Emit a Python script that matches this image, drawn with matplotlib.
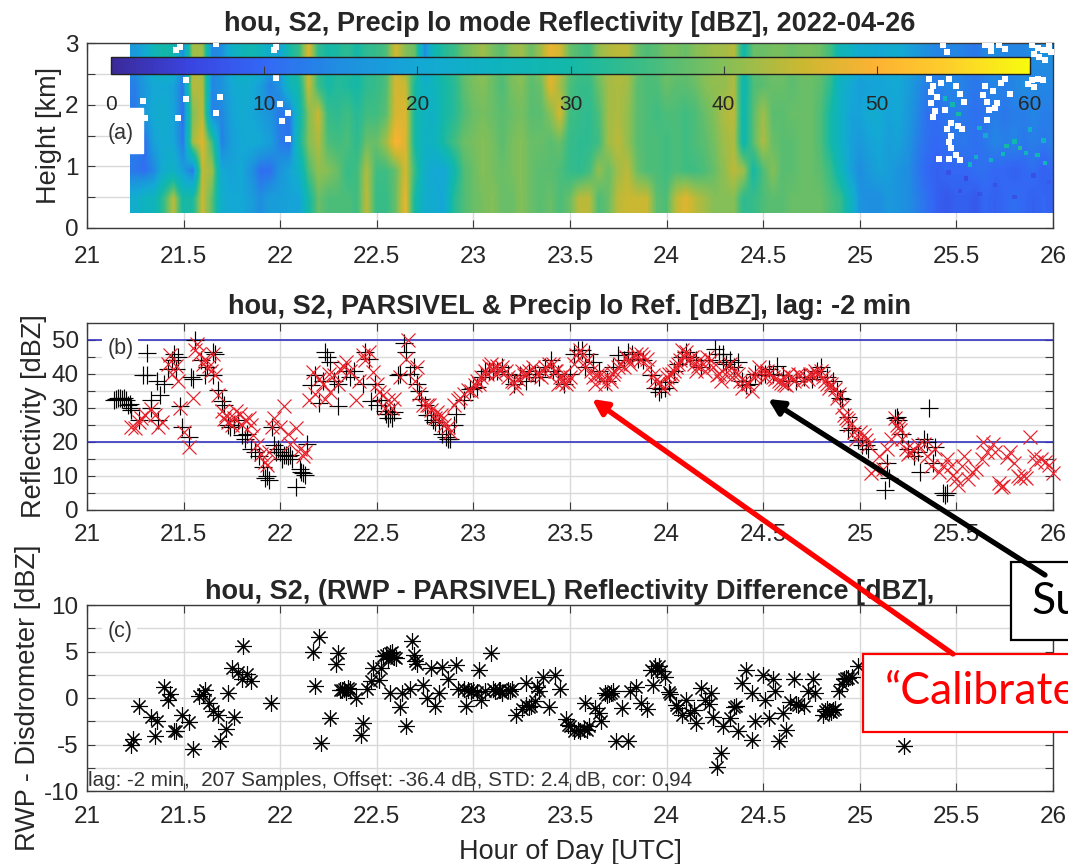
"""
Three-panel radar / disdrometer comparison for 2022-04-26 with slide call-outs on top.
Values read off the reference figure.
"""

import matplotlib

matplotlib.use("Agg")
import matplotlib.pyplot as plt
import numpy as np
from matplotlib.colors import LinearSegmentedColormap
from matplotlib.patches import Rectangle

plt.rcParams["font.family"] = ["Liberation Sans", "DejaVu Sans"]

W, H = 1068, 864
INK = "#3a3a3a"

# parula-like colours as seen on the colour bar
PARULA = ["#3b2a9a", "#3a44e0", "#3368f5", "#1f8fe0", "#14a8d5", "#0fb3bf", "#14b8a8",
          "#3fbd82", "#84bf58", "#c9b832", "#fdb233", "#fdd02a", "#f8fb0e"]

HOUR_TICKS = [21, 21.5, 22, 22.5, 23, 23.5, 24, 24.5, 25, 25.5, 26]
HOUR_LABELS = ["21", "21.5", "22", "22.5", "23", "23.5", "24", "24.5", "25", "25.5", "26"]

# (a) reflectivity, one list per height row, columns 21.25 .. 26 h every 0.05 h
refl_048 = [22, 25, 26, 34, 44, 30, 31, 45, 37, 22,
            20, 20, 18, 15, 18, 18, 19, 19, 30, 38,
            36, 36, 36, 35, 44, 34, 34, 38, 48, 30,
            22, 21, 20, 32, 36, 38, 39, 40, 38, 38,
            40, 38, 37, 38, 36, 38, 44, 44, 36, 38,
            44, 45, 45, 45, 37, 36, 44, 47, 44, 42,
            40, 40, 40, 33, 34, 36, 37, 37, 38, 38,
            38, 38, 36, 34, 26, 16, 15, 15, 17, 16,
            15, 13, 11, 9, 8, 9, 9, 8, 10, 9,
            10, 11, 10, 9, 10, 9]
refl_094 = [12, 11, 14, 22, 24, 18, 12, 44, 42, 20,
            19, 20, 16, 11, 11, 16, 19, 24, 36, 41,
            40, 38, 34, 35, 43, 35, 35, 38, 46, 34,
            23, 20, 20, 28, 36, 38, 40, 39, 38, 39,
            40, 38, 37, 37, 36, 34, 33, 35, 41, 38,
            42, 44, 38, 36, 36, 35, 36, 35, 35, 36,
            38, 41, 44, 42, 30, 36, 40, 37, 37, 38,
            38, 37, 34, 27, 19, 15, 17, 19, 18, 16,
            15, 12, 10, 9, 10, 10, 10, 11, 11, 10,
            10, 9, 10, 11, 9, 10]
refl_140 = [13, 11, 19, 21, 20, 12, 42, 47, 35, 13,
            18, 20, 21, 20, 18, 13, 11, 30, 40, 43,
            36, 35, 36, 33, 38, 38, 42, 50, 47, 30,
            24, 25, 31, 35, 38, 39, 40, 39, 37, 39,
            40, 38, 38, 37, 38, 34, 33, 33, 35, 42,
            44, 41, 37, 36, 36, 35, 36, 35, 36, 37,
            39, 42, 43, 28, 37, 43, 38, 37, 37, 38,
            38, 36, 30, 24, 19, 17, 19, 20, 18, 19,
            16, 13, 11, 10, 11, 12, 12, 11, 12, 14,
            13, 14, 12, 13, 12, 13]
refl_185 = [12, 17, 21, 22, 19, 11, 40, 44, 13, 14,
            19, 21, 20, 18, 16, 12, 12, 28, 40, 45,
            34, 33, 35, 32, 35, 35, 37, 46, 47, 30,
            25, 24, 30, 32, 36, 38, 39, 38, 37, 38,
            39, 37, 37, 40, 46, 35, 34, 33, 36, 42,
            43, 41, 37, 36, 35, 36, 36, 35, 36, 38,
            40, 43, 44, 28, 37, 42, 37, 37, 38, 38,
            38, 36, 30, 24, 19, 19, 21, 21, 19, 20,
            17, 14, 11, 11, 12, 13, 12, 11, 12, 13,
            12, 13, 13, 14, 13, 13]
refl_231 = [13, 17, 20, 20, 19, 12, 44, 43, 14, 16,
            20, 22, 21, 18, 13, 16, 26, 30, 45, 34,
            30, 32, 31, 30, 33, 34, 36, 46, 45, 30,
            24, 26, 30, 32, 37, 39, 40, 38, 36, 39,
            40, 37, 38, 47, 42, 36, 34, 34, 38, 42,
            43, 42, 37, 36, 36, 38, 37, 37, 38, 40,
            41, 41, 43, 28, 36, 37, 38, 38, 37, 38,
            38, 37, 33, 24, 21, 18, 19, 19, 20, 20,
            18, 15, 13, 13, 14, 14, 13, 12, 13, 14,
            13, 14, 15, 14, 14, 14]
refl_277 = [17, 20, 27, 30, 28, 15, 42, 42, 14, 15,
            23, 26, 28, 26, 22, 19, 30, 34, 47, 33,
            30, 31, 33, 30, 33, 34, 36, 46, 40, 38,
            15, 28, 32, 34, 38, 40, 42, 39, 37, 41,
            42, 38, 42, 48, 46, 38, 36, 35, 41, 43,
            44, 44, 38, 36, 37, 39, 39, 38, 40, 41,
            42, 42, 44, 29, 38, 38, 39, 39, 38, 39,
            39, 38, 35, 27, 25, 21, 21, 20, 21, 21,
            19, 17, 15, 14, 14, 14, 13, 12, 14, 15,
            14, 14, 14, 15, 15, 15]

# (a) single noisy cells in the weak echo at the end of the day: hour, km, dBZ
speck_cells = [(25.76, 1.33, 30), (25.74, 1.2, 26), (25.57, 1.03, 24), (25.6, 1.15, 22), (25.68, 1.1, 24),
               (25.8, 1.4, 28), (25.83, 1.3, 32), (25.86, 1.22, 26), (25.92, 1.18, 28), (25.95, 1.42, 24),
               (25.65, 1.5, 20), (25.62, 1.62, 24), (25.88, 1.6, 22), (25.96, 1.05, 26), (25.51, 1.85, 30),
               (25.48, 2.0, 28), (25.44, 2.1, 26), (25.7, 0.7, 7), (25.62, 0.55, 7), (25.8, 0.5, 7),
               (25.52, 0.6, 7), (25.9, 0.85, 7), (25.98, 0.75, 8), (25.46, 0.9, 7), (25.55, 0.8, 6)]

# (a) echo-free cells
gap_hour = [21.46, 21.48, 21.67, 21.97, 21.98, 21.51, 21.51, 21.69, 21.29, 21.30, 21.47, 21.67, 21.98, 22.0, 22.04,
            22.01, 22.04, 25.36, 25.38, 25.43, 25.45, 25.37, 25.40, 25.37, 25.39, 25.38, 25.44, 25.47, 25.42, 25.46,
            25.50, 25.52, 25.54, 25.45, 25.47, 25.53, 25.46, 25.51, 25.47, 25.50, 25.41, 25.46, 25.52, 25.65, 25.68,
            25.72, 25.75, 25.65, 25.75, 25.64, 25.66, 25.71, 25.67, 25.69, 25.73, 25.78, 25.66, 25.70, 25.89, 25.92,
            25.95, 25.98, 25.90, 25.93, 25.96, 25.99, 25.89, 25.92, 25.95, 25.98, 25.87, 25.90, 25.68]
gap_km = [2.89, 2.94, 2.99, 2.89, 2.94, 2.40, 2.10, 2.12, 2.06, 1.79, 1.79, 1.86, 2.43, 2.01, 1.86,
          1.74, 1.44, 2.42, 2.30, 2.96, 2.85, 2.20, 2.13, 2.02, 1.90, 1.80, 1.92, 1.70, 2.35, 2.42,
          2.30, 2.18, 2.04, 1.60, 1.50, 1.60, 1.40, 1.66, 1.30, 1.18, 1.12, 1.12, 1.10, 2.97, 2.96,
          2.96, 2.90, 2.30, 2.42, 2.15, 2.05, 2.02, 1.92, 2.22, 2.35, 2.18, 1.75, 1.95, 2.96, 2.92,
          2.88, 2.95, 2.82, 2.78, 2.72, 2.85, 2.40, 2.42, 2.40, 2.88, 2.33, 2.28, 2.87]

# (b) PARSIVEL, black plus signs
parsivel_hour = [21.14, 21.15, 21.17, 21.18, 21.20, 21.22, 21.23, 21.23, 21.27, 21.29, 21.31, 21.31, 21.33, 21.33,
                 21.37, 21.38, 21.40, 21.42, 21.45, 21.46, 21.48, 21.49, 21.53, 21.56, 21.55, 21.61, 21.59, 21.65,
                 21.65, 21.68, 21.71, 21.74, 21.78, 21.82, 21.83, 21.87, 21.91, 21.92, 21.94, 21.96, 21.97, 21.99,
                 22.02, 22.03, 22.05, 22.08, 22.11, 22.13, 22.14, 22.16, 22.18, 22.20, 22.23, 22.26, 22.30, 22.30,
                 22.34, 22.38, 22.43, 22.44, 22.46, 22.49, 22.52, 22.55, 22.57, 22.59, 22.61, 22.64, 22.65, 22.69,
                 22.71, 22.73, 22.75, 22.78, 22.79, 22.84, 22.86, 22.88, 22.91, 22.95, 22.98, 23.02, 23.06, 23.10,
                 23.15, 23.21, 23.24, 23.29, 23.34, 23.40, 23.41, 23.47, 23.50, 23.52, 23.56, 23.60, 23.62, 23.65,
                 23.69, 23.75, 23.80, 23.85, 23.92, 23.96, 23.97, 24.01, 24.04, 24.10, 24.12, 24.18, 24.25, 24.29,
                 24.29, 24.33, 24.37, 24.41, 24.43, 24.49, 24.53, 24.57, 24.60, 24.67, 24.75, 24.80, 24.86, 24.88,
                 24.91, 24.94, 24.94, 24.99, 25.01, 25.04, 25.13, 25.14, 25.15, 25.19, 25.20, 25.22, 25.25, 25.30,
                 25.31, 25.33, 25.36, 25.38, 25.39, 25.43, 25.44]
parsivel_dbz = [32.5, 32.7, 33, 32.7, 32.3, 31.3, 30.1, 29.3, 26.4, 39.6, 39.6, 46.2, 32.3, 30.1,
                26.4, 33.7, 37.1, 41.5, 46, 41.5, 30.5, 24.4, 21.5, 50, 38.6, 39.6, 44, 46.4,
                39.6, 35.2, 30.8, 24.4, 26.4, 21, 22.5, 17.1, 12.7, 9.3, 8.8, 24.4, 19, 18,
                16.1, 16.1, 16.1, 6.8, 11.2, 10.3, 19.5, 36.7, 39.6, 31.5, 46.4, 43.5, 30.5, 37.1,
                41, 41, 37.1, 46.4, 44.5, 37.1, 32.3, 28.3, 28.3, 28.8, 39.6, 49, 46.4, 42,
                37.1, 32.7, 30.8, 27.9, 26.4, 22.5, 21.5, 21, 28.3, 32.3, 35.7, 36.2, 41, 41,
                42, 37.1, 39.6, 41, 39, 44, 41, 37.1, 40, 46, 47, 46, 43.5, 41,
                38, 45.5, 46.4, 44.5, 39.6, 34.7, 35.7, 37.6, 41, 46.4, 45, 42, 47.4, 46,
                43.5, 44, 43.5, 36.7, 37, 39.6, 41.5, 42.5, 39.6, 38, 38.6, 42, 38, 35,
                32.7, 27.4, 23.5, 20.5, 19, 18, 5.9, 13.7, 9.3, 27.4, 26.4, 22.5, 18, 17,
                11.2, 21, 30.1, 13.7, 18.6, 4.9, 4.4]
parsivel_more = [(21.16, 33), (21.19, 33), (21.21, 31), (21.36, 38), (21.44, 44), (21.47, 45), (21.54, 39), (21.62, 42),
                 (21.66, 46), (21.7, 32), (21.73, 25), (21.76, 25), (21.8, 22), (21.85, 18), (21.89, 16), (21.93, 10),
                 (21.98, 17), (22, 17), (22.01, 15), (22.04, 16), (22.06, 15), (22.1, 12), (22.12, 11), (22.22, 38),
                 (22.24, 45), (22.28, 38), (22.36, 39), (22.47, 32), (22.5, 31), (22.54, 29), (22.56, 27), (22.58, 27),
                 (22.62, 40), (22.67, 40), (22.72, 35), (22.76, 28), (22.8, 26), (22.82, 25), (22.87, 21), (22.9, 25),
                 (23, 36), (23.04, 39), (23.08, 41), (23.12, 41), (23.18, 40), (23.27, 38), (23.32, 40), (23.37, 42),
                 (23.44, 40), (23.54, 47), (23.58, 42), (23.72, 42), (23.78, 44), (23.82, 46), (23.88, 44), (23.94, 36),
                 (23.99, 36), (24.06, 43), (24.08, 45), (24.15, 44), (24.22, 44), (24.27, 46), (24.31, 43), (24.35, 42),
                 (24.39, 38), (24.46, 40), (24.51, 40), (24.55, 40), (24.63, 38), (24.71, 39), (24.78, 41), (24.83, 39),
                 (24.9, 33), (24.96, 24), (25.03, 19), (25.18, 27), (25.28, 16), (25.35, 20), (25.45, 5)]

# (b) precip lo mode, red crosses
radar_hour = [21.23, 21.27, 21.30, 21.33, 21.37, 21.42, 21.43, 21.46, 21.47, 21.48, 21.55, 21.50, 21.53, 21.56, 21.57,
              21.61, 21.63, 21.65, 21.66, 21.68, 21.71, 21.73, 21.76, 21.79, 21.82, 21.85, 21.88, 21.90, 21.93, 21.97,
              21.96, 22.00, 22.02, 22.04, 22.08, 22.05, 22.10, 22.13, 22.15, 22.17, 22.20, 22.23, 22.26, 22.28, 22.31,
              22.34, 22.39, 22.43, 22.46, 22.48, 22.51, 22.53, 22.56, 22.59, 22.62, 22.66, 22.65, 22.71, 22.72, 22.76,
              22.78, 22.81, 22.84, 22.87, 22.88, 22.92, 22.95, 22.97, 23.01, 23.04, 23.06, 23.08, 23.10, 23.12, 23.15,
              23.18, 23.21, 23.23, 23.26, 23.29, 23.33, 23.37, 23.41, 23.43, 23.45, 23.46, 23.49, 23.50, 23.53, 23.56,
              23.59, 23.62, 23.64, 23.67, 23.70, 23.73, 23.76, 23.78, 23.80, 23.83, 23.87, 23.90, 23.93, 23.96, 24.00,
              24.03, 24.05, 24.07, 24.10, 24.13, 24.16, 24.19, 24.23, 24.26, 24.30, 24.33, 24.37, 24.40, 24.44, 24.46,
              24.50, 24.53, 24.56, 24.59, 24.62, 24.65, 24.69, 24.73, 24.76, 24.80, 24.83, 24.87, 24.91, 24.94, 24.97,
              25.00, 25.03, 25.06, 25.10, 25.14, 25.16, 25.19, 25.21, 25.25, 25.28, 25.33, 25.39, 25.41, 25.45, 25.48,
              25.51, 25.54, 25.58, 25.63, 25.64, 25.69, 25.70, 25.73, 25.76, 25.80, 25.83, 25.86, 25.88, 25.91, 25.94,
              25.98, 26.00]
radar_dbz = [24.4, 25.9, 27.9, 29.8, 24.4, 43, 45.5, 42.5, 38, 30, 33, 23, 18.6, 47, 48.9,
             44.5, 42.5, 46, 39.6, 33.7, 26.9, 25.9, 27, 28.3, 26.4, 25, 19, 16.6, 13.2, 27,
             24.4, 24.4, 30.5, 22.5, 24, 19.5, 18, 17, 32.3, 40.6, 38.6, 32.7, 34.7, 39.6, 41.5,
             43.5, 32.5, 45.5, 46.4, 40.6, 34.7, 33.7, 32.3, 32.7, 39, 49.9, 44.5, 42, 34, 30.8,
             29.3, 28.8, 26.9, 24.4, 23, 32.3, 34.2, 35.2, 36.7, 39, 41, 42.5, 41.5, 42.5, 42,
             39, 37.6, 38.5, 39.6, 41, 40, 42, 43, 41, 39, 37.6, 38, 39, 45.5, 45.5,
             44, 39, 39.6, 38.6, 39, 41, 43, 42, 44, 45, 46, 44.5, 39.6, 37.6, 39,
             40, 42, 44, 46.4, 45, 42.5, 43, 44, 39.6, 40, 43, 40, 38, 35, 40,
             41, 40, 38.6, 37.5, 36.7, 39, 39.6, 38.6, 39.6, 41, 37, 35.7, 30.3, 26.4, 23,
             23, 20.5, 10.8, 16, 18, 21, 25, 23.5, 16.6, 17.6, 19.5, 18, 11.2, 15, 10.3,
             7.3, 16, 11.2, 15, 20, 19.5, 17, 6.8, 15.6, 13.7, 9.3, 9.3, 21.5, 14.2, 15,
             13.2, 10.8]
radar_more = [(21.25, 24), (21.28, 27), (21.35, 28), (21.39, 26), (21.44, 40), (21.58, 46), (21.6, 43), (21.64, 41),
              (21.7, 29), (21.72, 28), (21.75, 25), (21.77, 29), (21.8, 25), (21.84, 27), (21.86, 22), (21.92, 14),
              (21.94, 17), (22.12, 16), (22.18, 34), (22.22, 37), (22.25, 40), (22.3, 37), (22.33, 42), (22.36, 41),
              (22.41, 38), (22.44, 44), (22.5, 37), (22.54, 30), (22.58, 30), (22.7, 38), (22.74, 31), (22.77, 31),
              (22.8, 27), (22.83, 28), (22.85, 25), (22.9, 31), (22.93, 33), (22.99, 35), (23.02, 38), (23.03, 37),
              (23.07, 40), (23.09, 43), (23.11, 40), (23.14, 41), (23.17, 41), (23.2, 38), (23.22, 36), (23.25, 41),
              (23.28, 40), (23.31, 42), (23.35, 39), (23.36, 41), (23.39, 43), (23.42, 41), (23.44, 37), (23.47, 40),
              (23.48, 37), (23.52, 43), (23.55, 47), (23.58, 42), (23.61, 41), (23.63, 37), (23.66, 40), (23.68, 37),
              (23.71, 38), (23.72, 40), (23.75, 42), (23.79, 45), (23.81, 43), (23.84, 46), (23.86, 44), (23.88, 45),
              (23.91, 42), (23.94, 38), (23.98, 36), (24.01, 40), (24.02, 37), (24.04, 41), (24.06, 43), (24.08, 47),
              (24.09, 45), (24.11, 44), (24.14, 43), (24.15, 41), (24.17, 44), (24.2, 41), (24.21, 45), (24.24, 42),
              (24.27, 40), (24.28, 38), (24.31, 42), (24.34, 39), (24.35, 41), (24.38, 38), (24.39, 36), (24.42, 37),
              (24.45, 39), (24.48, 42), (24.51, 39), (24.52, 41), (24.55, 39), (24.58, 38), (24.6, 39), (24.61, 37),
              (24.63, 40), (24.66, 38), (24.68, 40), (24.7, 38), (24.72, 39), (24.74, 40), (24.77, 41), (24.78, 40),
              (24.81, 39), (24.82, 38), (24.84, 36), (24.85, 37), (24.88, 33), (24.89, 34), (24.92, 28), (24.93, 27),
              (24.95, 25), (24.98, 21), (25.02, 22), (25.04, 19), (25.08, 12), (25.12, 12), (25.18, 27), (25.2, 24),
              (25.22, 21), (25.24, 18), (25.26, 17), (25.3, 19), (25.35, 16), (25.37, 13), (25.43, 13), (25.47, 13),
              (25.5, 9), (25.53, 13), (25.56, 9), (25.6, 12), (25.66, 17), (25.72, 8), (25.74, 7), (25.78, 17),
              (25.82, 10), (25.85, 10), (25.9, 16), (25.96, 14)]

# (c) RWP minus disdrometer
diff_hour = [21.23, 21.24, 21.27, 21.33, 21.35, 21.36, 21.40, 21.43, 21.42, 21.45, 21.46, 21.49, 21.53, 21.55, 21.58,
             21.60, 21.61, 21.63, 21.65, 21.68, 21.69, 21.72, 21.73, 21.76, 21.75, 21.78, 21.81, 21.80, 21.83, 21.85,
             21.95, 22.17, 22.18, 22.20, 22.21, 22.26, 22.29, 22.30, 22.31, 22.33, 22.36, 22.39, 22.42, 22.43, 22.45,
             22.47, 22.48, 22.51, 22.52, 22.55, 22.57, 22.59, 22.57, 22.62, 22.63, 22.65, 22.67, 22.68, 22.70, 22.71,
             22.74, 22.76, 22.78, 22.80, 22.82, 22.84, 22.87, 22.91, 22.92, 22.96, 22.97, 23.00, 23.03, 23.04, 23.09,
             23.10, 23.13, 23.15, 23.18, 23.20, 23.22, 23.27, 23.27, 23.30, 23.33, 23.34, 23.36, 23.39, 23.42, 23.45,
             23.48, 23.50, 23.52, 23.54, 23.59, 23.58, 23.63, 23.65, 23.66, 23.68, 23.71, 23.74, 23.77, 23.80, 23.81,
             23.84, 23.87, 23.90, 23.92, 23.96, 23.97, 23.93, 23.99, 24.02, 24.05, 24.08, 24.10, 24.12, 24.15, 24.18,
             24.20, 24.23, 24.24, 24.29, 24.28, 24.26, 24.33, 24.36, 24.37, 24.41, 24.39, 24.44, 24.44, 24.46, 24.50,
             24.51, 24.53, 24.55, 24.56, 24.58, 24.60, 24.62, 24.64, 24.66, 24.68, 24.71, 24.73, 24.76, 24.77, 24.81,
             24.84, 24.87, 24.89, 24.93, 24.96, 24.99, 25.23]
diff_db = [-5.1, -4.4, -0.9, -2, -4.1, -2.5, 1.2, 0.4, -0.2, -3.6, -3.6, -1.8, -2.6, -5.5, 0.2,
           0.4, 0.9, -0.5, -1.4, -1.8, -4.6, -3.3, 0.5, -2, 3.2, 2.8, 5.6, 2, 2.6, 1.8,
           -0.5, 5, 1.3, 6.6, -4.8, -2.1, 3.7, 4.8, 0.9, 1, 1, 0, -4, -2.7, 1,
           1.8, 3.2, 1.9, 3.2, 4.6, 4.8, 4.4, 0.5, -1, 0.5, -3, 1, 6.1, 4, 3.7,
           1.4, 0, 3.2, -0.9, 0.5, 3.3, 2, 3.5, 1, -0.9, 0.9, 0.9, 3, -0.2, 4.8,
           1, 0.9, 0.5, 0.9, 1, -1.8, 1.6, -0.7, -0.9, 1.2, 0.7, 2.3, -1, 2.5, 1,
           -2.3, -3, -3.5, -3.4, -3.4, -0.5, -1.1, -1.6, -2.5, 0.5, 0.5, -4.6, -1.1, -4.6, 0.7,
           1.2, -0.5, -1.2, 3, 3.4, 2.9, 1.4, 2.3, 0.4, -0.7, -1.8, -0.2, -1.6, -2.7, 1.1,
           -0.2, 0.5, -2, -3, -5.9, -7.4, -2.1, -0.9, -3.6, 3, 1.6, -4.5, 0.5, -2.5, 2.5,
           -0.2, -2.1, 2, 0.7, -4.6, -1.6, -3.4, -0.4, 2, -0.7, -0.9, 0.7, 2, 0.5, -1.8,
           -1.4, -1.2, 0.7, 2.1, 2.3, 3.4, -5.2]
diff_more = [(22.32, 0.9), (22.34, 0.6), (22.35, 1.1), (22.53, 4.5), (22.56, 4.2), (22.58, 4.9), (22.6, 4.3),
             (22.69, 4.6), (22.95, 1), (22.99, 0.8), (23.02, 0.6), (23.06, 0.7), (23.11, 0.7), (23.14, 0.9),
             (23.19, 0.8), (23.25, -1.2), (23.29, -1), (23.32, -0.3), (23.49, -2.9), (23.55, -3.5), (23.57, -3.3),
             (23.6, -3), (23.69, 0.3), (23.7, 0.4), (23.72, 0.7), (23.94, 3.4), (23.95, 3), (24.01, 0.6),
             (24.06, -1.1), (24.14, -1.3), (24.22, -0.6), (24.35, -1), (24.67, -0.6), (24.82, -1.4), (24.83, -1.2),
             (24.85, -1.5), (24.86, -1.3), (24.91, 1.5), (24.92, 2), (24.94, 2.2)]


def style_axes(ax, ylim, major, minor, xpad=10):
    ax.set_xlim(21, 26)
    ax.set_ylim(*ylim)
    ax.set_xticks(HOUR_TICKS, HOUR_LABELS)
    ax.set_yticks(minor)
    ax.set_yticklabels([f"{v:g}" if v in major else "" for v in minor])
    ax.tick_params(direction="in", top=True, right=True, length=6, width=0.8, color=INK,
                   labelcolor="#262626", labelsize=17.5, pad=6)
    ax.tick_params(axis="x", pad=xpad)
    ax.grid(True, color="#d9d9d9", lw=1.0)
    ax.set_axisbelow(True)
    for s in ax.spines.values():
        s.set_color(INK)
        s.set_linewidth(1.0)


def panel(left, top, right, bottom):
    return plt.gcf().add_axes([left / W, 1 - bottom / H, (right - left) / W, (bottom - top) / H])


def main() -> None:
    fig = plt.figure(figsize=(W / 100, H / 100), dpi=100)
    parula = LinearSegmentedColormap.from_list("parula_ish", PARULA)

    # panel (a)
    ax_a = panel(87, 43, 1053, 228)
    style_axes(ax_a, (0, 3), [0, 1, 2, 3], [0, 0.5, 1, 1.5, 2, 2.5, 3], xpad=13)
    field = np.array([refl_277, refl_231, refl_185, refl_140, refl_094, refl_048], dtype=float)
    im = ax_a.imshow(field, cmap=parula, vmin=0, vmax=60, aspect="auto", interpolation="bilinear",
                     extent=(21.225, 26.025, 0.25, 3), zorder=2)
    ax_a.set_xlim(21, 26)
    ax_a.set_ylim(0, 3)
    sp_t, sp_h, sp_v = zip(*speck_cells)
    ax_a.scatter(sp_t, sp_h, marker="s", s=10, c=sp_v, cmap=parula, vmin=0, vmax=60, linewidths=0, zorder=3)
    ax_a.scatter(gap_hour, gap_km, marker="s", s=14, c="white", linewidths=0, zorder=3)
    ax_a.add_patch(Rectangle((21.2, 1.22), 0.09, 0.73, color="white", zorder=3))
    ax_a.text(21.105, 1.53, "(a)", fontsize=15.5, color="#333333", va="center", zorder=4)
    ax_a.set_title("hou, S2, Precip lo mode Reflectivity [dBZ], 2022-04-26",
                   fontsize=19.5, fontweight="bold", color="#262626", pad=8.5)
    ax_a.set_ylabel("Height [km]", fontsize=19.5, color="#262626")
    ax_a.yaxis.set_label_coords((62 - 87) / 966, 0.5)

    cax = panel(111, 57, 1030, 74)
    cb = fig.colorbar(im, cax=cax, orientation="horizontal", ticks=[0, 10, 20, 30, 40, 50, 60])
    cb.ax.tick_params(direction="in", length=6, width=0.8, color=INK, labelcolor="#262626",
                      labelsize=15, pad=15)
    cb.outline.set_edgecolor("#222222")
    cb.outline.set_linewidth(1.0)

    # panel (b)
    ax_b = panel(87, 323, 1053, 510)
    style_axes(ax_b, (0, 55), [0, 10, 20, 30, 40, 50], list(range(0, 55, 5)))
    ax_b.axhline(50, color="#3535c0", lw=1.2, zorder=2)
    ax_b.axhline(20, color="#3535c0", lw=1.2, zorder=2)
    pm_t, pm_v = zip(*parsivel_more)
    rm_t, rm_v = zip(*radar_more)
    ax_b.plot(parsivel_hour + list(pm_t), parsivel_dbz + list(pm_v), ls="none", marker="+", ms=13, mew=0.85,
              color="black", zorder=3)
    ax_b.plot(radar_hour + list(rm_t), radar_dbz + list(rm_v), ls="none", marker="x", ms=9.5, mew=0.85,
              color="#e8202a", zorder=4, clip_on=False)
    ax_b.text(21.105, 47.5, "(b)", fontsize=15.5, color="#333333", va="center", zorder=5,
              bbox=dict(fc="white", ec="none", pad=3.5))
    ax_b.set_title("hou, S2, PARSIVEL & Precip lo Ref. [dBZ], lag: -2 min",
                   fontsize=19.5, fontweight="bold", color="#262626", pad=6.5)
    ax_b.set_ylabel("Reflectivity [dBZ]", fontsize=19.5, color="#262626")
    ax_b.yaxis.set_label_coords((47 - 87) / 966, 0.5)

    # panel (c)
    ax_c = panel(87, 605, 1053, 791)
    style_axes(ax_c, (-10, 10), [-10, -5, 0, 5, 10], [-10, -7.5, -5, -2.5, 0, 2.5, 5, 7.5, 10], xpad=11)
    dm_t, dm_v = zip(*diff_more)
    ax_c.plot(diff_hour + list(dm_t), diff_db + list(dm_v), ls="none", marker=(8, 2, 0), ms=12, mew=0.8,
              color="black", zorder=3)
    ax_c.text(21.105, 7.2, "(c)", fontsize=15.5, color="#333333", va="center", zorder=5,
              bbox=dict(fc="white", ec="none", pad=3.5))
    ax_c.text(21.005, -8.9, "lag: -2 min,  207 Samples, Offset: -36.4 dB, STD: 2.4 dB, cor: 0.94",
              fontsize=14.9, color="#333333", va="center", zorder=5)
    ax_c.set_title("hou, S2, (RWP - PARSIVEL) Reflectivity Difference [dBZ],",
                   fontsize=19.5, fontweight="bold", color="#262626", pad=4)
    ax_c.set_ylabel("RWP - Disdrometer [dBZ]", fontsize=19.5, color="#262626")
    ax_c.yaxis.set_label_coords((41 - 87) / 966, 0.5)
    ax_c.set_xlabel("Hour of Day [UTC]", fontsize=19.5, color="#262626", labelpad=8)

    # slide call-outs, in figure pixels
    over = fig.add_axes([0, 0, 1, 1], zorder=10)
    over.set_xlim(0, W)
    over.set_ylim(H, 0)
    over.axis("off")
    over.patch.set_alpha(0)
    over.add_patch(Rectangle((1011, 562), 90, 78, fc="white", ec="black", lw=1.6))
    over.add_patch(Rectangle((863, 654), 240, 78, fc="white", ec="#ff0000", lw=1.6))
    over.text(1031, 602, "Su", fontsize=32, family="Lato", color="black", va="center")
    over.text(885, 692, "“Calibrate", fontsize=32, family="Lato", color="#ff0000", va="center")
    over.annotate("", xy=(592, 399), xytext=(953, 654),
                  arrowprops=dict(arrowstyle="-|>,head_width=0.45,head_length=0.9", lw=3.8,
                                  color="#ff0000", shrinkA=0, shrinkB=0))
    over.annotate("", xy=(768, 399), xytext=(1045, 575),
                  arrowprops=dict(arrowstyle="-|>,head_width=0.45,head_length=0.9", lw=3.8,
                                  color="black", shrinkA=0, shrinkB=0))

    fig.savefig("out.png", dpi=100, facecolor="white")
    plt.close(fig)


if __name__ == "__main__":
    main()
